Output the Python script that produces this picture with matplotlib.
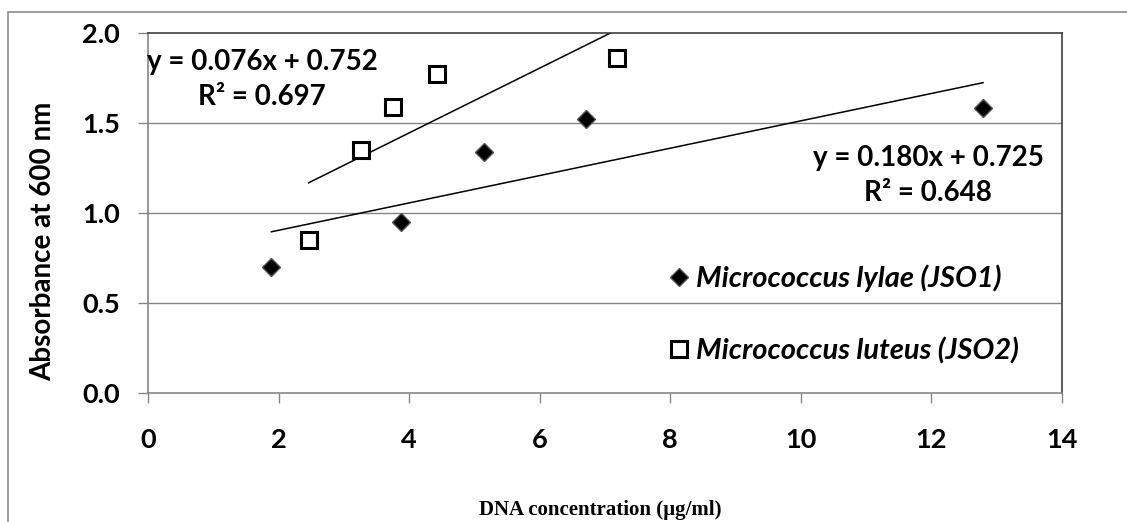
import matplotlib.pyplot as plt
from matplotlib import font_manager as fm
from matplotlib.lines import Line2D
from matplotlib.patches import Rectangle
import numpy as np

# ---------------------------------------------------------------------------
# Data
# ---------------------------------------------------------------------------
lylae_x = [1.89, 3.88, 5.14, 6.71, 12.79]
lylae_y = [0.70, 0.95, 1.34, 1.52, 1.585]
luteus_x = [2.46, 3.26, 3.76, 4.43, 7.18]
luteus_y = [0.85, 1.35, 1.59, 1.77, 1.86]

# linear trendlines (slope, intercept, R^2) as printed on the chart
lylae_fit = (0.076, 0.752, 0.697)
luteus_fit = (0.180, 0.725, 0.648)

x_ticks = [0, 2, 4, 6, 8, 10, 12, 14]
y_ticks = [0.0, 0.5, 1.0, 1.5, 2.0]


def pick_bold_family(candidates):
    # first family that actually ships a bold face
    for fam in candidates:
        for f in fm.fontManager.ttflist:
            if f.name == fam and f.weight in ("bold", 700, 600, "semibold",
                                               800, "heavy", "extra bold"):
                return fam
    return "DejaVu Sans"


SANS = pick_bold_family(["Lato", "Noto Sans", "Open Sans", "Roboto",
                         "Liberation Sans"])
plt.rcParams["font.family"] = [SANS, "DejaVu Sans"]
plt.rcParams["font.weight"] = "bold"

GRID = "#868686"
DARK = "#404040"

W, H = 1127, 522
fig = plt.figure(figsize=(W / 100, H / 100), dpi=100)
ax = fig.add_axes([148 / W, 1 - 393 / H, (1062 - 148) / W, (393 - 33) / H])

# outer chart border (only left/top visible in the crop)
fig.patches.append(Rectangle((8 / W, -0.2), 1.5, 1.2 - 12 / H,
                             transform=fig.transFigure, fill=False,
                             edgecolor="#8c8c8c", linewidth=1.2))

# gridlines
for yv in y_ticks[1:-1]:
    ax.axhline(yv, color=GRID, linewidth=1.0, zorder=0)

# trendlines
for xs, (m, b, _) in [(lylae_x, lylae_fit), (luteus_x, luteus_fit)]:
    xx = np.array([min(xs), max(xs)])
    ax.plot(xx, m * xx + b, color="black", linewidth=1.1, zorder=2)

ax.plot(lylae_x, lylae_y, linestyle="none", marker="D", markersize=9.5,
        markerfacecolor="black", markeredgecolor="#505050", markeredgewidth=1.0,
        zorder=3)
ax.plot(luteus_x, luteus_y, linestyle="none", marker="s", markersize=12,
        markerfacecolor="white", markeredgecolor="black", markeredgewidth=2.2,
        zorder=3)

ax.set_xlim(0, 14)
ax.set_ylim(0, 2.0)
ax.set_xticks(x_ticks)
ax.set_yticks(y_ticks)
ax.set_yticklabels([f"{v:.1f}" for v in y_ticks])

ax.tick_params(axis="both", direction="out", length=7, width=1.0, color=GRID,
               labelsize=19.5)
ax.tick_params(axis="y", pad=13)
ax.tick_params(axis="x", pad=18)
for lab in ax.get_xticklabels() + ax.get_yticklabels():
    lab.set_fontweight("bold")

for side in ["left", "bottom"]:
    ax.spines[side].set_color(GRID)
    ax.spines[side].set_linewidth(1.2)
for side in ["top", "right"]:
    ax.spines[side].set_color(DARK)
    ax.spines[side].set_linewidth(1.2)

ax.set_ylabel("Absorbance at 600 nm", fontweight="bold", fontsize=20)
ax.yaxis.set_label_coords(-0.1007, 0.422)
ax.set_xlabel("DNA concentration (\u00b5g/ml)", fontfamily="Liberation Serif",
              fontweight="bold", fontsize=15)
ax.xaxis.set_label_coords(0.4945, -0.297)

# trendline equations
eq_style = dict(fontweight="bold", fontsize=20, ha="center", va="center",
                zorder=4)
m, b, r2 = lylae_fit
ax.text(1.75, 1.84, f"y = {m:.3f}x + {b:.3f}", **eq_style)
ax.text(1.75, 1.645, f"R\u00b2 = {r2:.3f}", **eq_style)
m, b, r2 = luteus_fit
ax.text(11.95, 1.305, f"y = {m:.3f}x + {b:.3f}", **eq_style)
ax.text(11.95, 1.11, f"R\u00b2 = {r2:.3f}", **eq_style)

# legend
handles = [
    Line2D([], [], linestyle="none", marker="D", markersize=9,
           markerfacecolor="black", markeredgecolor="#505050"),
    Line2D([], [], linestyle="none", marker="s", markersize=12,
           markerfacecolor="white", markeredgecolor="black", markeredgewidth=2.2),
]
ax.legend(handles, ["Micrococcus lylae (JSO1)", "Micrococcus luteus (JSO2)"],
          loc="center left", bbox_to_anchor=(670 / W, 1 - 314.5 / H),
          bbox_transform=fig.transFigure, frameon=False, handlelength=0.6,
          handletextpad=0.3, labelspacing=1.55, borderaxespad=0, borderpad=0,
          prop=dict(family=SANS, weight="bold", style="italic", size=21))

fig.savefig("out.png", dpi=100)
